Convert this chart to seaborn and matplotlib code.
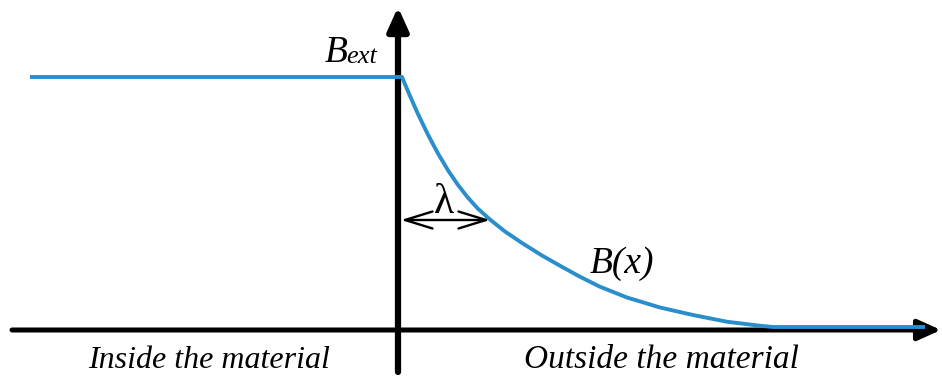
import matplotlib
matplotlib.use("Agg")
import matplotlib.pyplot as plt
import seaborn as sns
import pandas as pd

# Field profile (x relative to the surface, B relative to B_ext)
x_pos = [-368, 4, 12, 20, 30, 40, 50, 60, 70, 80, 92, 107, 124, 144, 162, 182, 202, 229,
         262, 295, 329, 362, 375, 527]
b_val = [1.0, 1.0, 0.924, 0.852, 0.769, 0.694, 0.627, 0.568, 0.517, 0.473, 0.430, 0.382,
         0.336, 0.286, 0.245, 0.201, 0.161, 0.118, 0.078, 0.048, 0.021, 0.005, 0.0, 0.0]
labels = {"ext_B": "B", "ext_sub": "ext", "lam": "λ", "curve": "B(x)",
          "inside": "Inside the material", "outside": "Outside the material"}

sns.set_style("white")
plt.rcParams["font.family"] = ["Liberation Serif", "DejaVu Serif"]

fig = plt.figure(figsize=(9.42, 3.76), dpi=100)
ax = fig.add_axes([0, 0, 1, 1])

df = pd.DataFrame({"x": x_pos, "B": b_val})
sns.lineplot(data=df, x="x", y="B", ax=ax, color="#2a8dcc", lw=2.8, sort=False,
             estimator=None, zorder=3, solid_joinstyle="round", solid_capstyle="butt")
ax.set_xlim(-398, 544)
ax.set_ylim(-0.196, 1.308)
ax.axis("off")

# axes arrows
ax.annotate("", xy=(543, -0.012), xytext=(-386, -0.012),
            arrowprops=dict(arrowstyle="-|>,head_length=1.0,head_width=0.45", lw=3.6,
                            color="black", mutation_scale=14, shrinkA=0, shrinkB=0), zorder=2)
ax.annotate("", xy=(0, 1.28), xytext=(0, -0.18),
            arrowprops=dict(arrowstyle="-|>,head_length=1.0,head_width=0.45", lw=4.5,
                            color="black", mutation_scale=14, shrinkA=0, shrinkB=0), zorder=2)

# lambda arrow
ax.annotate("", xy=(92, 0.428), xytext=(3, 0.428),
            arrowprops=dict(arrowstyle="<->,head_length=1.1,head_width=0.34", lw=1.7,
                            color="black", mutation_scale=18, shrinkA=0, shrinkB=0), zorder=4)

ax.text(-73, 1.06, labels["ext_B"], fontsize=27, style="italic", color="black",
        ha="left", va="baseline")
ax.text(-52, 1.056, labels["ext_sub"], fontsize=19, style="italic", color="black",
        ha="left", va="baseline")
ax.text(46, 0.456, labels["lam"], fontsize=30, color="black", ha="center", va="baseline")
ax.text(192, 0.216, labels["curve"], fontsize=27, style="italic", color="black",
        ha="left", va="baseline")
ax.text(-189, -0.164, labels["inside"], fontsize=23, style="italic", color="black",
        ha="center", va="baseline")
ax.text(263, -0.164, labels["outside"], fontsize=24, style="italic", color="black",
        ha="center", va="baseline")

fig.savefig("out.png", dpi=100)
